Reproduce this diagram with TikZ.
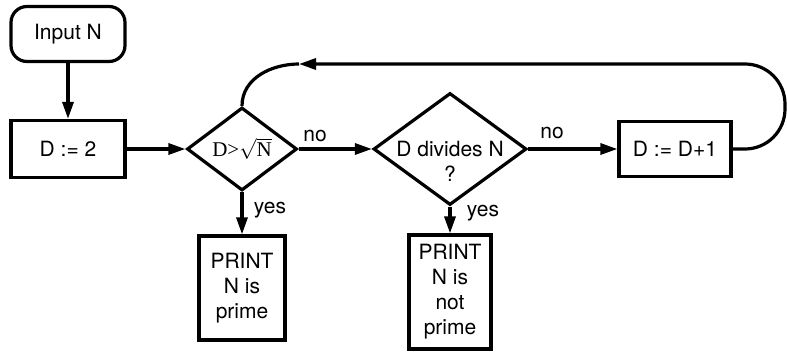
\documentclass[tikz,border=0pt]{standalone}
\usepackage{fontspec}
\setmainfont{TeX Gyre Heros}
\newfontfamily\timesfont{Liberation Serif}
\usetikzlibrary{shapes.geometric,arrows.meta}

\begin{document}
\begin{tikzpicture}[
  x=1pt, y=-1pt,
  every node/.style={font=\fontsize{21}{25}\selectfont},
  arrow/.style={-{Triangle[length=17pt, width=11pt]}, line width=3.2pt},
  line/.style={line width=3.2pt},
  box/.style={draw, line width=3.2pt, align=center, inner sep=0pt},
  test/.style={draw, diamond, line width=3.2pt, inner sep=-10pt},
  label/.style={inner sep=1pt},
]
\useasboundingbox (0,0) rectangle (787,353);

% === STEPS ===
\node[box, rounded corners=16pt, minimum width=114pt, minimum height=55pt] (input) at (68,34) {Input N};
\node[box, minimum width=114pt, minimum height=57pt] (init) at (68,149) {D := 2};
\node[test, minimum width=110pt, minimum height=83pt] (test1) at (242,149) {{\timesfont D>}$\sqrt{\mbox{\timesfont N}}$};
\node[test, minimum width=153pt, minimum height=112pt] (test2) at (450,149) {};
\node[align=center] (test2text) at (450,161) {D divides N\\?};
\node[box, minimum width=112pt, minimum height=55pt] (inc) at (675,149) {D := D+1};
\node[box, minimum width=86pt, minimum height=104pt] (prime) at (242,288) {PRINT\\N is\\prime};
\node[box, minimum width=82pt, minimum height=114pt] (notprime) at (450,292) {PRINT\\N is\\not\\prime};

% === FLOW ===
\draw[arrow] (input) -- (init);
\draw[arrow] (init) -- (test1);
\draw[arrow] (test1) -- (test2);
\draw[arrow] (test2) -- (inc);
\draw[arrow] (test1) -- (prime);
\draw[arrow] (test2) -- (notprime);

% loop back over the top
\coordinate (back) at (299,64);
\draw[arrow, rounded corners=40pt] (inc.east) -- (785,149) -- (785,64) -- (back);
\draw[line] (back) to[out=180, in=90] (test1.north);

\node[label] (no1) at (315,136) {no};
\node[label] (no2) at (552,133) {no};
\node[label] (yes1) at (270,210) {yes};
\node[label] (yes2) at (483,213) {yes};
\end{tikzpicture}
\end{document}
